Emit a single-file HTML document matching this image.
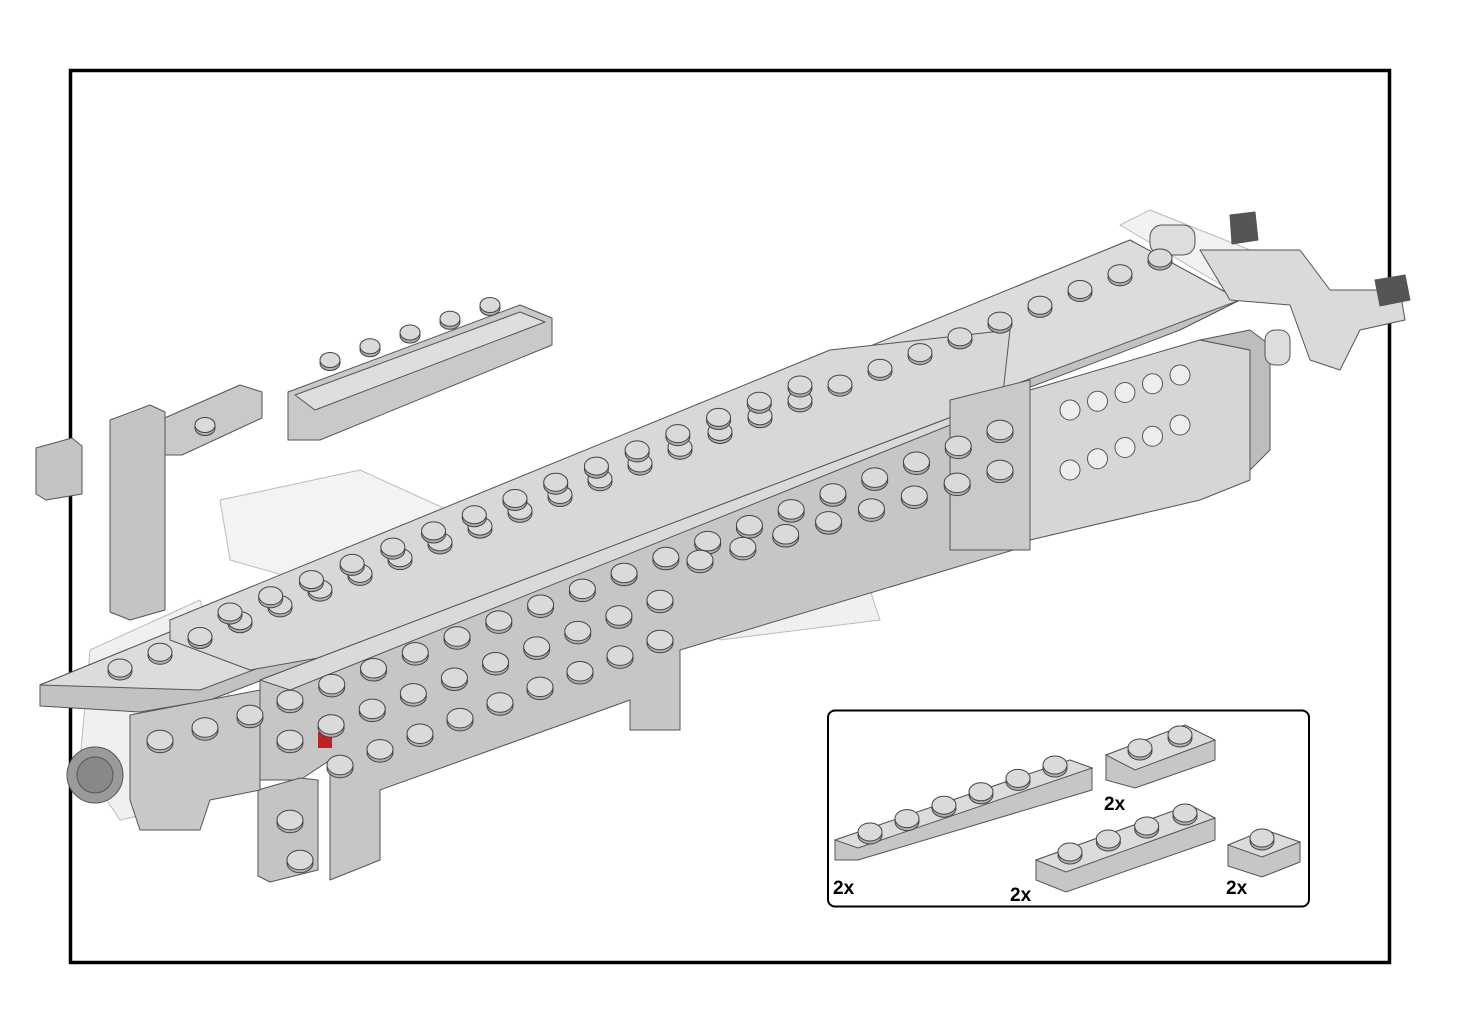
<!DOCTYPE html>
<html><head><meta charset="utf-8"><style>
html,body{margin:0;padding:0;background:#fff}
svg{display:block}
text{font-family:"Liberation Sans",Arial,sans-serif;font-weight:bold;font-size:19px;fill:#000}
</style></head><body>
<svg id="s" width="1461" height="1034" viewBox="0 0 1461 1034" xmlns="http://www.w3.org/2000/svg">
<rect x="0" y="0" width="1461" height="1034" fill="#fff"/>
<rect x="70.5" y="70.5" width="1319" height="892" fill="none" stroke="#000" stroke-width="3.5"/>
<g stroke="#555" stroke-width="1" stroke-linejoin="round">
<polygon points="220,500 360,470 470,520 450,560 300,580 230,560" fill="#f3f3f3" stroke="#bbb"/>
<polygon points="90,650 200,600 230,700 210,800 120,820 80,760" fill="#f0f0f0" stroke="#bbb"/>
<polygon points="700,600 860,560 880,620 720,640" fill="#f0f0f0" stroke="#bbb"/>
<polygon points="1120,225 1150,210 1250,250 1230,290" fill="#f2f2f2" stroke="#bbb"/>
<polygon points="288,392 520,305 552,318 552,345 320,440 288,440" fill="#c9c9c9"/>
<polygon points="295,395 520,312 545,322 315,410" fill="#dedede"/>
<polygon points="160,420 240,385 262,392 262,418 182,455 160,455" fill="#c9c9c9"/>
<polygon points="110,420 150,405 165,412 165,610 130,620 110,612" fill="#c4c4c4"/>
<polygon points="36,448 72,438 82,446 82,494 46,500 36,494" fill="#c4c4c4"/>
<polygon points="40,685 1130,240 1240,300 1180,330 210,700 140,712 40,706" fill="#c2c2c2"/>
<polygon points="40,685 1130,240 1240,300 200,690" fill="#dcdcdc"/>
<polygon points="170,620 830,350 1010,330 1000,420 420,640 250,670 170,640" fill="#d8d8d8"/>
<polygon points="260,680 970,410 1030,400 1030,545 680,650 680,730 630,730 630,700 380,790 380,860 330,880 330,760 300,780 260,780" fill="#c6c6c6"/>
<polygon points="260,680 970,410 1000,405 290,690" fill="#dadada"/>
<polygon points="258,790 300,778 318,780 318,870 270,882 258,876" fill="#c4c4c4"/>
<polygon points="130,715 260,690 260,790 210,800 200,830 140,830 130,800" fill="#c8c8c8"/>
<polygon points="950,400 1030,380 1030,550 950,550" fill="#c9c9c9"/>
<polygon points="1030,390 1200,340 1250,350 1250,480 1200,500 1030,540" fill="#d6d6d6"/>
<polygon points="1200,340 1250,330 1270,345 1270,450 1250,470 1250,350" fill="#bdbdbd"/>
<polygon points="1200,250 1300,250 1330,290 1400,290 1405,320 1360,330 1340,370 1310,360 1290,305 1230,300" fill="#dadada"/>
<rect x="1150" y="225" width="45" height="30" rx="12" fill="#ddd"/>
<rect x="1265" y="330" width="25" height="35" rx="10" fill="#ddd"/>
<polygon points="1230,215 1255,212 1258,240 1232,244" fill="#555"/>
<polygon points="1375,280 1405,275 1410,300 1380,306" fill="#555"/>
<rect x="318" y="732" width="14" height="16" fill="#b22" stroke="none"/>
<circle cx="95" cy="775" r="28" fill="#9a9a9a"/>
<circle cx="95" cy="775" r="18" fill="#888"/>
</g>
<g id="holes" fill="#eee" stroke="#555"></g>
<g id="studs" stroke="#444" stroke-width="1"></g>
<rect x="828" y="710.5" width="481" height="196" rx="7" fill="none" stroke="#000" stroke-width="2"/>
<g stroke="#555" stroke-width="1">
<polygon points="835,840 1070,760 1092,768 1092,790 858,860 835,860" fill="#c6c6c6"/>
<polygon points="835,840 1070,760 1092,768 858,848" fill="#dcdcdc"/>
<polygon points="1106,755 1185,725 1215,740 1215,760 1135,788 1106,780" fill="#c6c6c6"/>
<polygon points="1106,755 1185,725 1215,740 1135,770" fill="#dcdcdc"/>
<polygon points="1036,860 1190,805 1215,818 1215,840 1066,892 1036,880" fill="#c6c6c6"/>
<polygon points="1036,860 1190,805 1215,818 1066,872" fill="#dcdcdc"/>
<polygon points="1228,845 1265,830 1300,842 1300,862 1262,877 1228,866" fill="#c6c6c6"/>
<polygon points="1228,845 1265,830 1300,842 1262,857" fill="#dcdcdc"/>
</g>
<g id="istuds" stroke="#444" stroke-width="1"></g>
<text x="833" y="894">2x</text>
<text x="1104" y="810">2x</text>
<text x="1010" y="901">2x</text>
<text x="1226" y="894">2x</text>
</svg>
<script>
function row(g,x1,y1,x2,y2,n,r){var el=document.getElementById(g);for(var i=0;i<n;i++){var t=n>1?i/(n-1):0;var x=x1+(x2-x1)*t,y=y1+(y2-y1)*t;
el.insertAdjacentHTML('beforeend','<ellipse cx="'+x+'" cy="'+(y+3)+'" rx="'+r+'" ry="'+(r*0.75)+'" fill="#b0b0b0"/><ellipse cx="'+x+'" cy="'+y+'" rx="'+r+'" ry="'+(r*0.75)+'" fill="#dadada"/>');}}
function hole(x1,y1,x2,y2,n){var el=document.getElementById('holes');for(var i=0;i<n;i++){var t=i/(n-1);el.insertAdjacentHTML('beforeend','<circle cx="'+(x1+(x2-x1)*t)+'" cy="'+(y1+(y2-y1)*t)+'" r="10"/>');}}
hole(1070,410,1180,375,5);hole(1070,470,1180,425,5);
row('studs',120,668,1160,258,27,12);
row('studs',230,612,800,385,15,12);
row('studs',290,700,1000,430,18,13);
row('studs',290,740,660,600,10,13);
row('studs',340,765,660,640,9,13);
row('studs',700,560,1000,470,8,13);
row('studs',160,740,250,715,3,13);
row('studs',290,820,300,860,2,13);
row('studs',330,360,490,305,5,10);
row('studs',205,425,205,425,1,10);
row('istuds',870,832,1055,765,6,12);
row('istuds',1140,748,1180,735,2,12);
row('istuds',1070,852,1185,813,4,12);
row('istuds',1262,838,1262,838,1,12);
</script>
</body></html>
